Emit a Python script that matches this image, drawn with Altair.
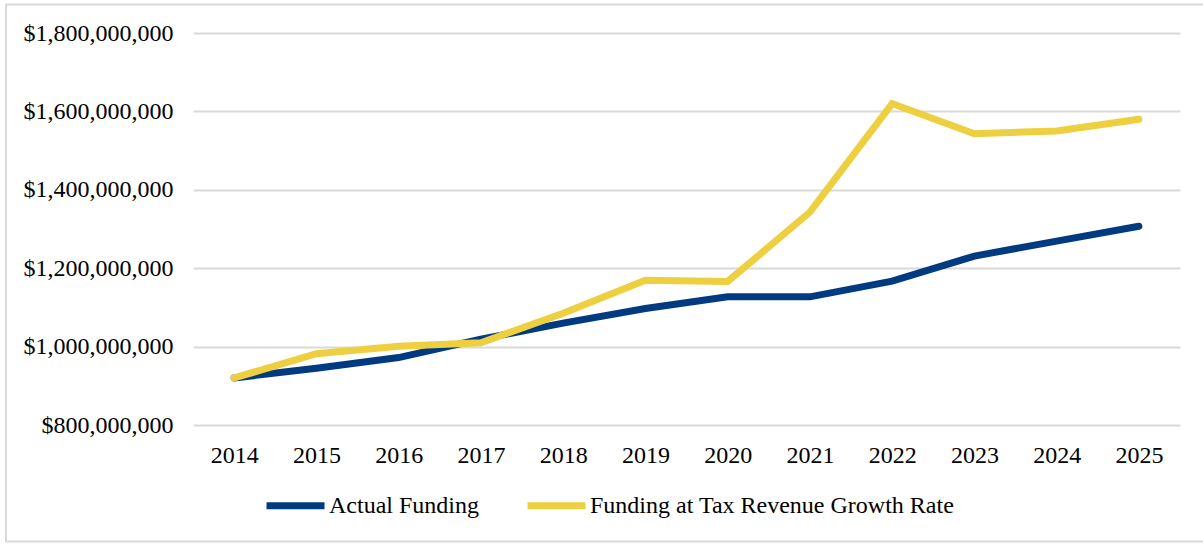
import altair as alt
import pandas as pd

years = ["2014", "2015", "2016", "2017", "2018", "2019", "2020", "2021", "2022", "2023", "2024", "2025"]
actual_funding = [920e6, 945e6, 972e6, 1019e6, 1060e6, 1097e6, 1127e6, 1127e6, 1167e6, 1231e6, 1269e6, 1307e6]
growth_rate_funding = [920e6, 982e6, 1001e6, 1010e6, 1085e6, 1169e6, 1166e6, 1343e6, 1620e6, 1543e6, 1550e6, 1580e6]
series_names = ["Actual Funding", "Funding at Tax Revenue Growth Rate"]
series_colors = ["#003A80", "#EDCF3F"]
y_ticks = [800e6, 1000e6, 1200e6, 1400e6, 1600e6, 1800e6]

df = pd.DataFrame({
    "Year": years * 2,
    "Value": actual_funding + growth_rate_funding,
    "Series": [series_names[0]] * len(years) + [series_names[1]] * len(years),
})

FONT = "Liberation Serif"

x_enc = alt.X("Year:N", sort=years,
              scale=alt.Scale(type="point", padding=0.5),
              axis=alt.Axis(title=None, labelAngle=0, domain=False, ticks=False, tickSize=0,
                            grid=False, labelPadding=18, labelFont=FONT, labelFontSize=24,
                            labelColor="#000000"))
y_enc = alt.Y("Value:Q",
              scale=alt.Scale(domain=[800e6, 1800e6], nice=False, zero=False),
              axis=alt.Axis(title=None, values=y_ticks, format="$,.0f", domain=False,
                            ticks=False, tickSize=0, labelPadding=20, labelFont=FONT,
                            labelFontSize=24, labelColor="#000000", grid=True,
                            gridColor="#d9d9d9", gridWidth=2))
color_enc = alt.Color("Series:N",
                      scale=alt.Scale(domain=series_names, range=series_colors),
                      legend=alt.Legend(title=None, orient="none", legendX=70, legendY=440,
                                        direction="horizontal", columns=2, columnPadding=34,
                                        symbolType="stroke", symbolStrokeWidth=7, symbolSize=3364,
                                        labelFont=FONT, labelFontSize=24, labelColor="#000000",
                                        labelOffset=1, labelLimit=0, padding=0))

base = alt.Chart(df)
line_actual = base.transform_filter(alt.datum.Series == series_names[0]).mark_line(
    strokeWidth=7, strokeCap="round", strokeJoin="miter").encode(x=x_enc, y=y_enc, color=color_enc)
line_growth = base.transform_filter(alt.datum.Series == series_names[1]).mark_line(
    strokeWidth=7, strokeCap="round", strokeJoin="miter").encode(x=x_enc, y=y_enc, color=color_enc)

frame = alt.Chart(pd.DataFrame({"f": [0]})).mark_rect(
    fill="transparent", stroke="#d9d9d9", strokeWidth=2).encode(
    x=alt.value(-187), x2=alt.value(1030), y=alt.value(-28.5), y2=alt.value(508.5))

chart = alt.layer(frame, line_actual, line_growth).properties(
    width=987, height=392,
    autosize=alt.AutoSizeParams(type="none"),
    padding={"left": 193, "top": 33, "right": 23, "bottom": 119},
    background="#ffffff",
).configure_view(stroke=None)

chart.save("out.html", embed_options={"renderer": "svg", "actions": False})
